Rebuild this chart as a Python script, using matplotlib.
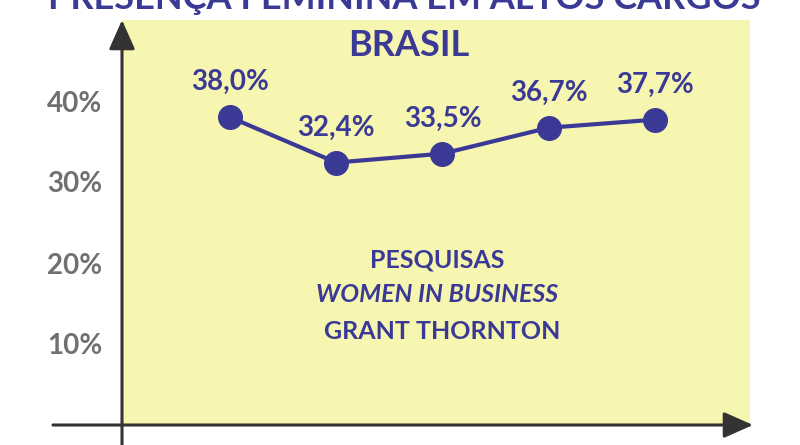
import matplotlib
matplotlib.use("Agg")
import matplotlib.pyplot as plt

plt.rcParams['font.family'] = ['Lato', 'DejaVu Sans']

# ---- data ----
values = [38.0, 32.4, 33.5, 36.7, 37.7]
value_labels = ["38,0%", "32,4%", "33,5%", "36,7%", "37,7%"]
ytick_values = [10, 20, 30, 40]
ytick_labels = ["10%", "20%", "30%", "40%"]
title = "PRESENÇA FEMININA EM ALTOS CARGOS"
subtitle = "BRASIL"
source_lines = ["PESQUISAS", "WOMEN IN BUSINESS", "GRANT THORNTON"]

BLUE = "#3a3a96"
GRAY = "#707070"
AXIS = "#333333"
YELLOW = "#f6f6b0"

W, H = 800, 445
fig = plt.figure(figsize=(8, 4.45), dpi=100)
fig.patch.set_facecolor("white")

# axes over the yellow panel (pixels: x 122..750, y 20..425 from top)
ax = fig.add_axes([122 / W, (H - 425) / H, (750 - 122) / W, (425 - 20) / H])
ax.set_facecolor(YELLOW)
for s in ax.spines.values():
    s.set_visible(False)

x = list(range(len(values)))
ax.plot(x, values, color=BLUE, lw=3, marker="o", markersize=17,
        markerfacecolor=BLUE, markeredgecolor=BLUE, zorder=3)
for xi, v, lab in zip(x, values, value_labels):
    ax.annotate(lab, (xi, v), xytext=(0, 35), textcoords="offset pixels",
                ha="center", va="center", fontsize=20, fontweight="bold",
                color=BLUE)

ax.set_xlim(-1.016, 4.894)
ax.set_ylim(0, 50)
ax.set_xticks([])
ax.set_yticks(ytick_values)
ax.set_yticklabels(ytick_labels, fontsize=20, fontweight="bold", color=GRAY)
ax.tick_params(axis="y", length=0, pad=14)

# source text block
ax.text(0.502, 0.407, source_lines[0], transform=ax.transAxes, ha="center",
        va="center", fontsize=18, fontweight="bold", color=BLUE)
ax.text(0.502, 0.323, source_lines[1], transform=ax.transAxes, ha="center",
        va="center", fontsize=18, fontweight="bold", style="italic", color=BLUE)
ax.text(0.51, 0.230, source_lines[2], transform=ax.transAxes, ha="center",
        va="center", fontsize=18, fontweight="bold", color=BLUE)

# titles
fig.text(404 / W, 1 - 9 / H, title, ha="center", va="baseline",
         fontsize=26, fontweight="bold", color=BLUE)
fig.text(409 / W, 1 - 45 / H, subtitle, ha="center", va="center",
         fontsize=26, fontweight="bold", color=BLUE)

# axis arrows
arrow = dict(arrowstyle="-|>,head_length=1.8,head_width=0.8", color=AXIS,
             lw=2.2, shrinkA=0, shrinkB=0, mutation_scale=10)
fig.add_artist(matplotlib.patches.FancyArrowPatch(
    (122, 0), (122, H - 20), transform=None, **arrow))
fig.add_artist(matplotlib.patches.FancyArrowPatch(
    (53, H - 425), (753, H - 425), transform=None, **arrow))

fig.savefig("out.png", dpi=100)
